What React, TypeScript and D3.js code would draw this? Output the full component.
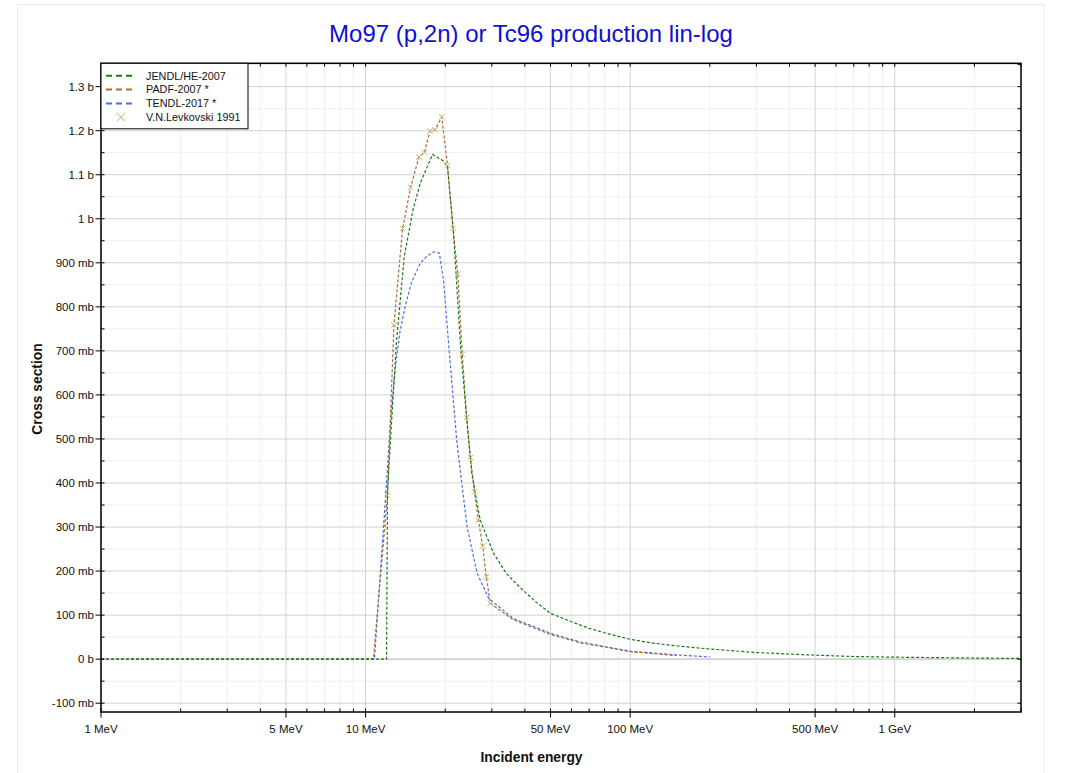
import React from "react";
import * as d3 from "d3";

// ---------- Data (energies in MeV, cross sections in mb) ----------
const jendlE = [1, 12.0, 12.1, 12.7, 13.1, 14.0, 15.1, 16.1, 17.9, 19.7, 20.4, 21.5, 22.9, 24.2, 25.2, 27.1, 30.5, 34, 38, 44, 50, 60, 70, 80, 100, 120, 150, 200, 300, 500, 700, 1000, 2000, 3000];
const jendlS = [0, 0, 380, 596, 725, 914, 1020, 1081, 1146, 1131, 1118, 967, 702, 535, 422, 316, 240, 195, 165, 130, 104, 85, 70, 60, 45, 37, 30, 23, 15, 9, 6, 4.5, 2.5, 1.5];

const padfE = [1, 10.7, 12.1, 12.8, 13.8, 14.8, 15.9, 16.7, 17.5, 18.3, 19.4, 20.4, 21.4, 22.3, 23.2, 24.1, 24.9, 25.8, 26.7, 27.7, 28.6, 29.6, 36, 50, 65, 100, 150];
const padfS = [0, 0, 372, 759, 978, 1071, 1140, 1151, 1199, 1202, 1231, 1121, 978, 874, 692, 549, 458, 380, 316, 257, 187, 127, 90, 56, 37, 17, 8];

const tendlE = [1, 10.8, 11.9, 12.5, 13.0, 13.5, 14.1, 14.9, 16.1, 17.1, 18.2, 19.0, 19.7, 20.6, 22.1, 23.1, 24.2, 26.4, 29.2, 36.2, 50.4, 64.7, 100, 155, 200];
const tendlS = [0, 0, 369, 560, 670, 745, 800, 855, 899, 916, 925, 922, 861, 715, 497, 399, 300, 195, 138, 92, 58, 39, 18, 9, 5];

const levkE = [12.1, 12.8, 13.8, 14.8, 15.9, 16.7, 17.5, 18.3, 19.4, 20.4, 21.4, 22.3, 23.2, 24.1, 24.9, 25.8, 26.7, 27.7, 28.6, 29.6];
const levkS = [372, 759, 978, 1071, 1140, 1151, 1199, 1202, 1231, 1121, 978, 874, 692, 549, 458, 380, 316, 257, 187, 127];

const xMajorTicks = [1, 5, 10, 50, 100, 500, 1000];
const xMajorLabels = ["1 MeV", "5 MeV", "10 MeV", "50 MeV", "100 MeV", "500 MeV", "1 GeV"];
const yMajorTicks = [-100, 0, 100, 200, 300, 400, 500, 600, 700, 800, 900, 1000, 1100, 1200, 1300];
const yMajorLabels = ["-100 mb", "0 b", "100 mb", "200 mb", "300 mb", "400 mb", "500 mb", "600 mb", "700 mb", "800 mb", "900 mb", "1 b", "1.1 b", "1.2 b", "1.3 b"];

const seriesNames = ["JENDL/HE-2007", "PADF-2007 *", "TENDL-2017 *", "V.N.Levkovski 1991"];
const titleText = "Mo97 (p,2n) or Tc96 production lin-log";

const COLORS = {
  jendl: "#137d13",
  padf: "#ad6a35",
  tendl: "#4a6fe3",
  levk: "#bdb76b",
};

const FONT = "'Liberation Sans', Arial, Helvetica, sans-serif";

export default function App() {
  const W = 1069, H = 773;
  const left = 101, right = 1021, top = 63.3, bottom = 712;

  const x = d3.scaleLog().domain([1, 3000]).range([left, right]);
  const y = d3.scaleLinear().domain([-120, 1353]).range([bottom, top]);

  const xAllTicks: number[] = [];
  for (let dec = 1; dec <= 1000; dec *= 10) {
    for (let m = 1; m <= 9; m++) {
      const v = m * dec;
      if (v >= 1 && v <= 3000) xAllTicks.push(v);
    }
  }
  const xMinorTicks = xAllTicks.filter((v) => !xMajorTicks.includes(v));
  const yMinorTicks = d3.range(-50, 1351, 100);

  const line = d3
    .line<[number, number]>()
    .x((d) => x(d[0]))
    .y((d) => y(d[1]));

  const mk = (E: number[], S: number[]) => line(E.map((e, i) => [e, S[i]] as [number, number])) || "";

  const legX = left, legY = top, legW = 147, legH = 65.5;
  const legRows = [0, 1, 2, 3].map((i) => legY + 12.5 + i * 13.8);

  return (
    <svg width={W} height={H} style={{ position: "absolute", left: 0, top: 0 }} fontFamily={FONT}>
      <rect x={0} y={0} width={W} height={H} fill="#fff" />
      <rect x={17.5} y={4.5} width={1026.5} height={800} fill="none" stroke="#ebebeb" />

      <text x={531} y={41.5} textAnchor="middle" fontSize={24} fill="#0f0fd0">
        {titleText}
      </text>

      <defs>
        <clipPath id="plotClip">
          <rect x={left} y={top} width={right - left} height={bottom - top} />
        </clipPath>
      </defs>

      <g>
        {xMinorTicks.map((v) => (
          <line key={"gxm" + v} x1={x(v)} x2={x(v)} y1={top} y2={bottom} stroke="#efefef" />
        ))}
        {yMinorTicks.map((v) => (
          <line key={"gym" + v} x1={left} x2={right} y1={y(v)} y2={y(v)} stroke="#efefef" />
        ))}
        {xMajorTicks.map((v) => (
          <line key={"gx" + v} x1={x(v)} x2={x(v)} y1={top} y2={bottom} stroke="#d2d2d2" />
        ))}
        {yMajorTicks.map((v) => (
          <line key={"gy" + v} x1={left} x2={right} y1={y(v)} y2={y(v)} stroke="#d2d2d2" strokeWidth={v === 0 ? 1.6 : 1} />
        ))}
      </g>

      <g clipPath="url(#plotClip)" fill="none" strokeWidth={1.2} strokeDasharray="3,2">
        <path d={mk(tendlE, tendlS)} stroke={COLORS.tendl} />
        <path d={mk(padfE, padfS)} stroke={COLORS.padf} />
        <path d={mk(jendlE, jendlS)} stroke={COLORS.jendl} />
      </g>
      <g stroke={COLORS.levk} strokeWidth={1}>
        {levkE.map((e, i) => {
          const cx = x(e), cy = y(levkS[i]);
          const r = 2.8;
          return (
            <g key={"lv" + i}>
              <line x1={cx - r} y1={cy - r} x2={cx + r} y2={cy + r} />
              <line x1={cx - r} y1={cy + r} x2={cx + r} y2={cy - r} />
            </g>
          );
        })}
      </g>

      <rect x={left} y={top} width={right - left} height={bottom - top} fill="none" stroke="#000" strokeWidth={1.5} />

      <g stroke="#000" strokeWidth={1}>
        {xMinorTicks.map((v) => (
          <g key={"xt" + v}>
            <line x1={x(v)} x2={x(v)} y1={bottom} y2={bottom - 3.5} />
            <line x1={x(v)} x2={x(v)} y1={top} y2={top + 3.5} />
          </g>
        ))}
        {xMajorTicks.map((v) => (
          <g key={"xT" + v}>
            <line x1={x(v)} x2={x(v)} y1={bottom - 3.5} y2={bottom + 5.5} />
            <line x1={x(v)} x2={x(v)} y1={top} y2={top + 3.5} />
          </g>
        ))}
      </g>
      <g stroke="#000" strokeWidth={1}>
        {yMinorTicks.map((v) => (
          <g key={"yt" + v}>
            <line x1={left} x2={left + 3.5} y1={y(v)} y2={y(v)} />
            <line x1={right} x2={right - 3.5} y1={y(v)} y2={y(v)} />
          </g>
        ))}
        {yMajorTicks.map((v) => (
          <g key={"yT" + v}>
            <line x1={left - 5.5} x2={left + 3.5} y1={y(v)} y2={y(v)} />
            <line x1={right} x2={right - 3.5} y1={y(v)} y2={y(v)} />
          </g>
        ))}
      </g>

      <g fontSize={11.5} fill="#111">
        {xMajorTicks.map((v, i) => (
          <text key={"xl" + v} x={x(v)} y={733} textAnchor="middle">
            {xMajorLabels[i]}
          </text>
        ))}
        {yMajorTicks.map((v, i) => (
          <text key={"yl" + v} x={94} y={y(v)} dy="0.35em" textAnchor="end">
            {yMajorLabels[i]}
          </text>
        ))}
      </g>

      <text x={531.5} y={762} textAnchor="middle" fontSize={13.8} fontWeight="bold" fill="#111">
        Incident energy
      </text>
      <text transform={`translate(41.5,389) rotate(-90)`} textAnchor="middle" fontSize={13.8} fontWeight="bold" fill="#111">
        Cross section
      </text>

      <g>
        <rect x={legX} y={legY} width={legW} height={legH} fill="#fff" stroke="#000" strokeWidth={1} />
        {[COLORS.jendl, COLORS.padf, COLORS.tendl].map((c, i) => (
          <line key={"ll" + i} x1={106} x2={132} y1={legRows[i]} y2={legRows[i]} stroke={c} strokeWidth={2} strokeDasharray="6,4" />
        ))}
        <g stroke={COLORS.levk} strokeWidth={1}>
          <line x1={117} y1={legRows[3] - 3.8} x2={125} y2={legRows[3] + 3.8} />
          <line x1={117} y1={legRows[3] + 3.8} x2={125} y2={legRows[3] - 3.8} />
        </g>
        {seriesNames.map((n, i) => (
          <text key={"lt" + i} x={146} y={legRows[i]} dy="0.35em" fontSize={10.8} fill="#111">
            {n}
          </text>
        ))}
      </g>
    </svg>
  );
}
